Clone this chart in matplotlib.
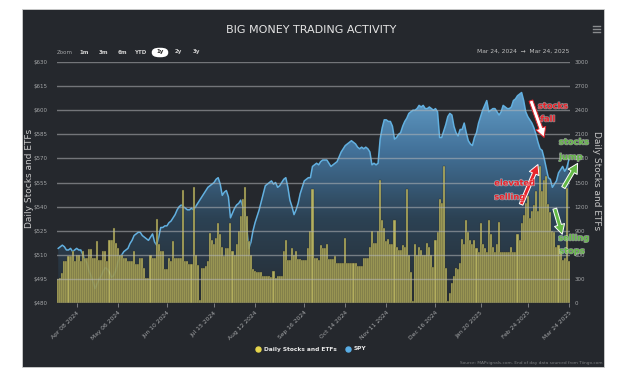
import numpy as np
import pandas as pd
import matplotlib
matplotlib.use("Agg")
import matplotlib.pyplot as plt
import matplotlib.patheffects as pe
from matplotlib.colors import LinearSegmentedColormap
from matplotlib.lines import Line2D
from matplotlib.patches import Rectangle, FancyBboxPatch, FancyArrowPatch

# trading days Mar 25 2024 .. Mar 24 2025
holidays = ["2024-03-29", "2024-05-27", "2024-06-19", "2024-07-04", "2024-09-02",
            "2024-11-28", "2024-12-25", "2025-01-01", "2025-01-09", "2025-01-20",
            "2025-02-17"]
days = pd.bdate_range("2024-03-25", "2025-03-24")
days = days[~days.isin(pd.to_datetime(holidays))]

# SPY close ($)
spy = [
    514, 515, 516, 515,
    513, 513, 514, 512, 513, 514, 513, 513, 510, 507, 505, 500, 497, 493, 489, 492, 495, 497, 500, 502, 501, 499,
    496, 497, 500, 505, 509, 510, 512, 513, 514, 517, 519, 522, 523, 524, 524, 522, 521, 520, 519, 521, 523, 518,
    516, 521, 527, 527, 528, 528, 530, 531, 533, 535, 538, 540, 541, 540, 539, 538, 538, 539, 538,
    540, 542, 544, 546, 548, 550, 552, 553, 554, 555, 557, 558, 554, 547, 549, 550, 546, 533, 536, 539, 541, 542,
    544, 540, 536, 526, 514, 518, 525, 530, 534, 538, 543, 548, 553, 554, 555, 556, 554, 555, 552, 553, 555, 557,
    558, 552, 544, 540, 535, 538, 542, 548, 552, 556, 557, 558, 558, 565, 566, 567, 566, 568, 569, 569,
    569, 567, 565, 566, 567, 568, 571, 574, 576, 578, 579, 580, 581, 580, 579, 577, 576, 577, 576, 577, 576, 574, 566,
    567, 566, 567, 582, 589, 594, 594, 593, 593, 590, 582, 583, 585, 586, 590, 593, 595, 598, 599, 600,
    600, 601, 603, 602, 603, 601, 601, 602, 601, 600, 601, 599, 583, 583, 587, 591, 596, 598, 597, 590, 586,
    584, 588, 588, 592, 586, 581, 579, 578, 583, 586, 592, 596, 600, 603, 606, 599, 600, 601, 601, 599,
    597, 599, 603, 602, 601, 601, 602, 606, 607, 609, 610, 611, 606, 599, 596, 594, 592, 589, 585,
    580, 576, 575, 570, 564, 558, 557, 552, 554, 556, 561, 563, 565, 562, 564, 569,
]

# daily stocks and ETFs count
flows = [
    300, 310, 375, 520,
    520, 585, 585, 650, 520, 600, 600, 520, 650, 560, 560, 670, 670, 560, 560, 770, 540, 540, 650, 650, 520, 780,
    780, 930, 750, 680, 600, 600, 560, 560, 520, 520, 520, 650, 480, 480, 560, 560, 440, 310, 310, 600, 560, 560,
    1045, 735, 650, 650, 420, 420, 560, 520, 770, 560, 560, 560, 560, 1405, 520, 520, 480, 480, 1445,
    600, 470, 40, 430, 440, 460, 520, 875, 780, 740, 810, 1000, 860, 700, 580, 690, 690, 1000, 650, 600, 730, 900,
    1080, 1300, 1445, 1080, 770, 600, 420, 400, 380, 380, 380, 340, 330, 330, 330, 320, 400, 310, 330, 330, 330, 650,
    780, 530, 530, 690, 600, 650, 550, 550, 530, 530, 530, 690, 900, 1420, 565, 560, 530, 720, 690, 690,
    730, 550, 550, 550, 590, 500, 500, 500, 500, 810, 500, 500, 500, 500, 500, 460, 460, 460, 555, 555, 555, 700, 900,
    750, 750, 900, 1530, 1030, 930, 775, 800, 740, 740, 1030, 700, 660, 660, 720, 700, 1420, 600, 380, 25,
    740, 600, 700, 660, 600, 600, 750, 700, 600, 450, 780, 880, 1300, 1245, 1700, 430, 25, 130, 250, 330, 440,
    420, 500, 800, 740, 1030, 890, 790, 740, 790, 680, 640, 1000, 740, 680, 640, 1030, 860, 700, 640, 740,
    1010, 640, 640, 640, 640, 640, 700, 640, 640, 860, 790, 1000, 1100, 1250, 1330, 1060, 1140, 1220, 1400,
    1150, 1700, 1400, 1530, 1580, 1230, 1130, 900, 880, 700, 720, 650, 530, 560, 1430, 520,
]

tick_dates = ["2024-04-08", "2024-05-06", "2024-06-10", "2024-07-15", "2024-08-12", "2024-09-16",
              "2024-10-14", "2024-11-11", "2024-12-16", "2025-01-20", "2025-02-24", "2025-03-24"]
tick_labels = ["Apr 08 2024", "May 06 2024", "Jun 10 2024", "Jul 15 2024", "Aug 12 2024", "Sep 16 2024",
               "Oct 14 2024", "Nov 11 2024", "Dec 16 2024", "Jan 20 2025", "Feb 24 2025", "Mar 24 2025"]

W, H = 624, 371
BG = "#25282d"
TXT = "#a4a6a8"


def fx(x):
    return x / W


def fy(y):
    return 1 - y / H


fig = plt.figure(figsize=(W / 100, H / 100), dpi=100, facecolor="white")
fig.patches.append(Rectangle((fx(22), fy(367)), fx(604) - fx(22), fy(9) - fy(367),
                             transform=fig.transFigure, facecolor=BG, edgecolor="#cfcfcf",
                             lw=0.6, zorder=-5))

ax = fig.add_axes([fx(57), fy(303), (570 - 57) / W, (303 - 62) / H])
ax.set_facecolor("none")
ax2 = ax.twinx()
ax2.set_facecolor("none")

xs = np.arange(len(days))

# SPY area with a vertical gradient
fill = ax.fill_between(xs, spy, 480, color="none", lw=0)
cmap = LinearSegmentedColormap.from_list(
    "spy", [(0, "#262c33"), (0.4, "#2c4254"), (0.72, "#43729a"), (1, "#64a0ca")])
grad = np.linspace(0, 1, 256).reshape(-1, 1)
im = ax.imshow(grad, cmap=cmap, aspect="auto", origin="lower",
               extent=[xs[0], xs[-1], 480, 612], zorder=1)
im.set_clip_path(fill.get_paths()[0], transform=ax.transData)
ax.plot(xs, spy, color="#62b0e0", lw=1.1, zorder=2)

ax2.bar(xs, flows, width=1.0, color="#cbc464", edgecolor="#33342c", lw=0.35,
        alpha=0.86, zorder=2)
for v in range(0, 3001, 300):
    ax2.axhline(v, color="#b4b6b8", lw=1.0, alpha=0.55, zorder=3)

ax.set_xlim(-0.6, len(days) - 0.4)
ax.set_ylim(480, 630)
ax2.set_ylim(0, 3000)

ax.set_yticks(range(480, 631, 15))
ax.set_yticklabels([f"${v}" for v in range(480, 631, 15)])
ax2.set_yticks(range(0, 3001, 300))
ax.tick_params(axis="y", length=0, pad=7, labelsize=4, labelcolor=TXT)
ax2.tick_params(axis="y", length=0, pad=3, labelsize=4, labelcolor=TXT)

pos = [days.searchsorted(pd.Timestamp(d)) for d in tick_dates]
ax.set_xticks(pos)
ax.set_xticklabels(tick_labels, rotation=45, ha="right", rotation_mode="anchor",
                   fontsize=4.3, color=TXT)
ax.tick_params(axis="x", length=3, color="#8a8c8e", width=0.6, pad=2)

for a in (ax, ax2):
    for s in a.spines.values():
        s.set_visible(False)

fig.text(fx(29), fy(178), "Daily Stocks and ETFs", rotation=90, ha="center", va="center",
         fontsize=6.5, color="#c8c8c8")
fig.text(fx(596), fy(181), "Daily Stocks and ETFs", rotation=270, ha="center", va="center",
         fontsize=6.5, color="#c8c8c8")

fig.text(fx(311), fy(30), "BIG MONEY TRADING ACTIVITY", ha="center", va="center",
         fontsize=8, color="#e4e4e4")

# hamburger menu
for yy in (26, 29, 32):
    fig.add_artist(Line2D([fx(593), fx(600)], [fy(yy), fy(yy)], color="#8a8c8e", lw=1.0))

# zoom buttons
fig.text(fx(57), fy(52), "Zoom", fontsize=4, color=TXT, va="center")
fig.add_artist(FancyBboxPatch((fx(153), fy(56.5)), fx(14), (8 / H),
                              boxstyle="round,pad=0.002,rounding_size=0.012",
                              transform=fig.transFigure, facecolor="white", edgecolor="none"))
for lab, x in [("1m", 84), ("3m", 103), ("6m", 122), ("YTD", 140), ("1y", 160), ("2y", 178), ("3y", 196)]:
    fig.text(fx(x), fy(52), lab, fontsize=4, fontweight="bold", ha="center", va="center",
             color="#222222" if lab == "1y" else "#d0d0d0")
fig.text(fx(569), fy(51), "Mar 24, 2024  \u2192  Mar 24, 2025", fontsize=4.3, color="#c0c0c0",
         ha="right", va="center")

# legend
fig.add_artist(Line2D([fx(258)], [fy(349)], marker="o", ms=3.6, color="#e6d64c", lw=0))
fig.text(fx(264), fy(349), "Daily Stocks and ETFs", fontsize=4.2, fontweight="bold",
         color="#e8e8e8", va="center")
fig.add_artist(Line2D([fx(348)], [fy(349)], marker="o", ms=3.6, color="#5aaee6", lw=0))
fig.text(fx(354), fy(349), "SPY", fontsize=4.2, fontweight="bold", color="#e8e8e8", va="center")

fig.text(fx(602), fy(363), "Source: MAPsignals.com. End of day data sourced from Tiingo.com",
         fontsize=3.1, color="#7c7e80", ha="right", va="center")

# annotations
RED = "#e8242c"
GREEN = "#63b846"
halo = [pe.withStroke(linewidth=1.0, foreground="white", alpha=0.45)]


def note(x, y, s, c):
    fig.text(fx(x), fy(y), s, fontsize=6, fontweight="bold", color=c, ha="center", va="center",
             path_effects=halo)


def arrow(x0, y0, x1, y1, face, edge):
    fig.add_artist(FancyArrowPatch(
        (fx(x0), fy(y0)), (fx(x1), fy(y1)), transform=fig.transFigure,
        arrowstyle="simple,head_length=0.7,head_width=0.75,tail_width=0.28",
        mutation_scale=10, facecolor=face, edgecolor=edge, lw=0.7))


arrow(530, 98, 545, 140, "white", RED)
note(553, 106, "stocks", RED)
note(548, 119, "fall", RED)
arrow(520, 207, 539, 162, RED, "white")
note(515, 183, "elevated", RED)
note(510, 197, "selling", RED)
arrow(562, 190, 579, 161, GREEN, "white")
note(574, 142, "stocks", GREEN)
note(571, 157, "jump", GREEN)
arrow(554, 206, 563, 237, GREEN, "white")
note(574, 238, "selling", GREEN)
note(572, 251, "stops", GREEN)

fig.savefig("out.png", dpi=100, facecolor="white")
